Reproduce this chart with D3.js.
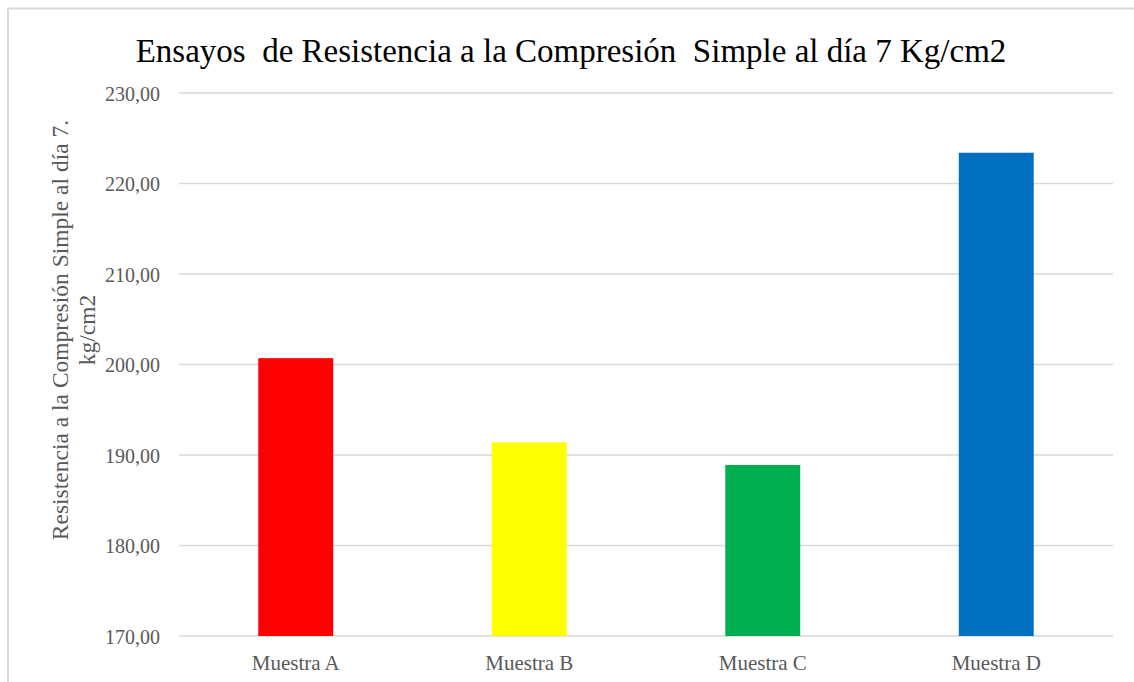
<!DOCTYPE html>
<html>
<head>
<meta charset="utf-8">
<script src="https://cdn.jsdelivr.net/npm/d3@7"></script>
<style>
html,body{margin:0;padding:0;background:#fff;}
svg{display:block;}
</style>
</head>
<body>
<svg id="chart" width="1134" height="682"></svg>
<script>
const categories = ["Muestra A", "Muestra B", "Muestra C", "Muestra D"];
const values = [200.7, 191.4, 188.9, 223.4];
const colors = ["#FF0000", "#FFFF00", "#00B050", "#0070C0"];
const yTicks = [170, 180, 190, 200, 210, 220, 230];
const title = "Ensayos  de Resistencia a la Compresión  Simple al día 7 Kg/cm2";
const yTitleLines = ["Resistencia a la Compresión Simple al día 7.", "kg/cm2"];

const svg = d3.select("#chart");
const font = "Liberation Serif";

// outer border
svg.append("rect").attr("x", 8).attr("y", 8.5).attr("width", 1200).attr("height", 700)
  .attr("fill", "#fff").attr("stroke", "#d9d9d9").attr("stroke-width", 2);

const margin = {left: 179, right: 1113, top: 93, bottom: 636};
const y = d3.scaleLinear().domain([170, 230]).range([margin.bottom, margin.top]);
const x = d3.scaleBand().domain(categories).range([margin.left, margin.right]).padding(0);
const barW = x.bandwidth() * 0.321;

// gridlines
svg.append("g").selectAll("line").data(yTicks).join("line")
  .attr("x1", margin.left).attr("x2", margin.right)
  .attr("y1", d => y(d)).attr("y2", d => y(d))
  .attr("stroke", "#d9d9d9").attr("stroke-width", 1.5);

// bars
svg.append("g").selectAll("rect").data(values).join("rect")
  .attr("x", (d, i) => x(categories[i]) + x.bandwidth() / 2 - barW / 2)
  .attr("width", barW)
  .attr("y", d => y(d))
  .attr("height", d => y(170) - y(d))
  .attr("fill", (d, i) => colors[i]);

// y axis labels
const yAxis = d3.axisLeft(y).tickValues(yTicks).tickSize(0).tickPadding(0)
  .tickFormat(d => d3.format(".2f")(d).replace(".", ","));
const yg = svg.append("g").attr("transform", `translate(${160},0)`).call(yAxis);
yg.select(".domain").remove();
yg.attr("font-family", font).attr("font-size", 20);
yg.selectAll("text").attr("font-family", font).attr("font-size", 20).attr("fill", "#595959").attr("dy", "0.35em");

// x axis labels
const xAxis = d3.axisBottom(x).tickSize(0).tickPadding(0);
const xg = svg.append("g").attr("transform", `translate(0,${670})`).call(xAxis);
xg.select(".domain").remove();
xg.attr("font-family", font).attr("font-size", 21);
xg.selectAll("text").attr("font-family", font).attr("font-size", 21).attr("fill", "#595959").attr("dy", "0");

// title
svg.append("text").attr("x", 571).attr("y", 62).attr("text-anchor", "middle")
  .attr("font-family", font).attr("font-size", 33).attr("fill", "#000")
  .style("white-space", "pre").text(title);

// y title
const yt = svg.append("text").attr("transform", "translate(68,330) rotate(-90)")
  .attr("text-anchor", "middle").attr("font-family", font).attr("font-size", 23.5).attr("fill", "#595959");
yt.selectAll("tspan").data(yTitleLines).join("tspan")
  .attr("x", 0).attr("dy", (d, i) => i === 0 ? 0 : 27).text(d => d);
</script>
</body>
</html>
